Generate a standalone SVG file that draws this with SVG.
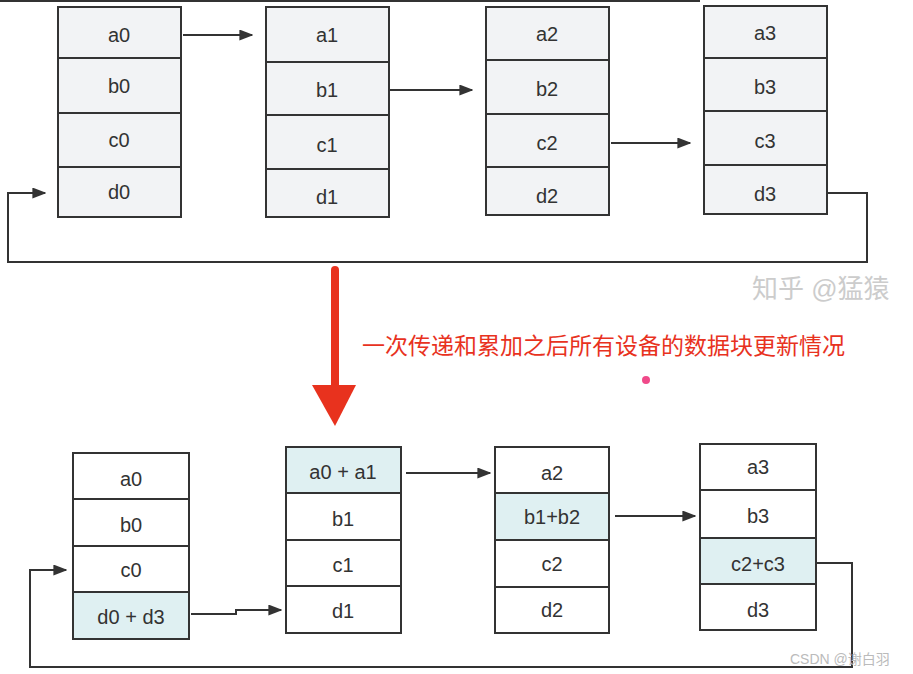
<svg xmlns="http://www.w3.org/2000/svg" width="913" height="674" viewBox="0 0 913 674">
<defs>
<style>
.t{fill:#f2f3f5;stroke:#333;stroke-width:2}
.w{fill:#fff;stroke:#333;stroke-width:2}
.h{fill:#dff0f2;stroke:#333;stroke-width:2}
.l{font-family:"Liberation Sans",Arial,sans-serif;font-size:20px;fill:#333;text-anchor:middle;dominant-baseline:central}
.c{fill:none;stroke:#333;stroke-width:2}
</style>
<marker id="ar" viewBox="0 0 10 10" refX="9" refY="5" markerWidth="14" markerHeight="11" markerUnits="userSpaceOnUse" orient="auto" preserveAspectRatio="none"><path d="M0,0L10,5L0,10z" fill="#333"/></marker>
</defs>
<rect width="913" height="674" fill="#fff"/>
<line x1="0" y1="1" x2="700" y2="1" stroke="#333" stroke-width="2"/>
<g id="t0"><rect class="t" x="58" y="7" width="123" height="51"/><rect class="t" x="58" y="58" width="123" height="55"/><rect class="t" x="58" y="113" width="123" height="54"/><rect class="t" x="58" y="167" width="123" height="50"/>
<text class="l" x="119" y="35">a0</text><text class="l" x="119" y="86">b0</text><text class="l" x="119" y="140">c0</text><text class="l" x="119" y="192">d0</text></g>
<g id="t1"><rect class="t" x="266" y="7" width="123" height="55"/><rect class="t" x="266" y="62" width="123" height="53"/><rect class="t" x="266" y="115" width="123" height="54"/><rect class="t" x="266" y="169" width="123" height="48"/>
<text class="l" x="327" y="35">a1</text><text class="l" x="327" y="90">b1</text><text class="l" x="327" y="145">c1</text><text class="l" x="327" y="197">d1</text></g>
<g id="t2"><rect class="t" x="486" y="7" width="123" height="53"/><rect class="t" x="486" y="60" width="123" height="54"/><rect class="t" x="486" y="114" width="123" height="53"/><rect class="t" x="486" y="167" width="123" height="48"/>
<text class="l" x="547" y="34">a2</text><text class="l" x="547" y="89">b2</text><text class="l" x="547" y="143">c2</text><text class="l" x="547" y="196">d2</text></g>
<g id="t3"><rect class="t" x="704" y="6" width="123" height="52"/><rect class="t" x="704" y="58" width="123" height="53"/><rect class="t" x="704" y="111" width="123" height="54"/><rect class="t" x="704" y="165" width="123" height="49"/>
<text class="l" x="765" y="33">a3</text><text class="l" x="765" y="87">b3</text><text class="l" x="765" y="141">c3</text><text class="l" x="765" y="194">d3</text></g>
<g id="b0"><rect class="w" x="73" y="453" width="116" height="46"/><rect class="w" x="73" y="499" width="116" height="47"/><rect class="w" x="73" y="546" width="116" height="46"/><rect class="h" x="73" y="592" width="116" height="47"/>
<text class="l" x="131" y="479">a0</text><text class="l" x="131" y="525">b0</text><text class="l" x="131" y="570">c0</text><text class="l" x="131" y="617">d0 + d3</text></g>
<g id="b1"><rect class="h" x="286" y="447" width="115" height="46"/><rect class="w" x="286" y="493" width="115" height="47"/><rect class="w" x="286" y="540" width="115" height="46"/><rect class="w" x="286" y="586" width="115" height="47"/>
<text class="l" x="343" y="472">a0 + a1</text><text class="l" x="343" y="519">b1</text><text class="l" x="343" y="565">c1</text><text class="l" x="343" y="611">d1</text></g>
<g id="b2"><rect class="w" x="495" y="447" width="114" height="46"/><rect class="h" x="495" y="493" width="114" height="47"/><rect class="w" x="495" y="540" width="114" height="47"/><rect class="w" x="495" y="587" width="114" height="46"/>
<text class="l" x="552" y="473">a2</text><text class="l" x="552" y="517">b1+b2</text><text class="l" x="552" y="564">c2</text><text class="l" x="552" y="610">d2</text></g>
<g id="b3"><rect class="w" x="700" y="444" width="116" height="46"/><rect class="w" x="700" y="490" width="116" height="48"/><rect class="h" x="700" y="538" width="116" height="46"/><rect class="w" x="700" y="584" width="116" height="46"/>
<text class="l" x="758" y="467">a3</text><text class="l" x="758" y="516">b3</text><text class="l" x="758" y="564">c2+c3</text><text class="l" x="758" y="610">d3</text></g>
<g id="connectors">
<line class="c" x1="183" y1="35" x2="252" y2="35" marker-end="url(#ar)"/>
<line class="c" x1="388" y1="90" x2="472" y2="90" marker-end="url(#ar)"/>
<line class="c" x1="611" y1="143" x2="690" y2="143" marker-end="url(#ar)"/>
<polyline class="c" points="827,193 867,193 867,262 8,262 8,193 45,193" marker-end="url(#ar)"/>
<line class="c" x1="406" y1="473" x2="490" y2="473" marker-end="url(#ar)"/>
<line class="c" x1="615" y1="516" x2="695" y2="516" marker-end="url(#ar)"/>
<polyline class="c" points="191,614 236,614 236,610 281,610" marker-end="url(#ar)"/>
<polyline class="c" points="816,563 852,563 852,667 30,667 30,570 66,570" marker-end="url(#ar)"/>
<line x1="335" y1="270" x2="335" y2="390" stroke="#e8321e" stroke-width="8" stroke-linecap="round"/>
<path d="M312,385L356,385L335,426z" fill="#e8321e"/>
</g>
<text x="362" y="354" font-family="'Liberation Sans','Noto Sans CJK SC',sans-serif" font-size="23" fill="#e8321e">一次传递和累加之后所有设备的数据块更新情况</text>
<circle cx="646" cy="380" r="4" fill="#f04a8a"/>
<text x="752" y="298" font-family="'Liberation Sans','Noto Sans CJK SC',sans-serif" font-size="26" fill="#ccc">知乎 @猛猿</text>
<text x="790" y="664" font-family="'Liberation Sans','Noto Sans CJK SC',sans-serif" font-size="14" fill="#bbb">CSDN @谢白羽</text>
</svg>
